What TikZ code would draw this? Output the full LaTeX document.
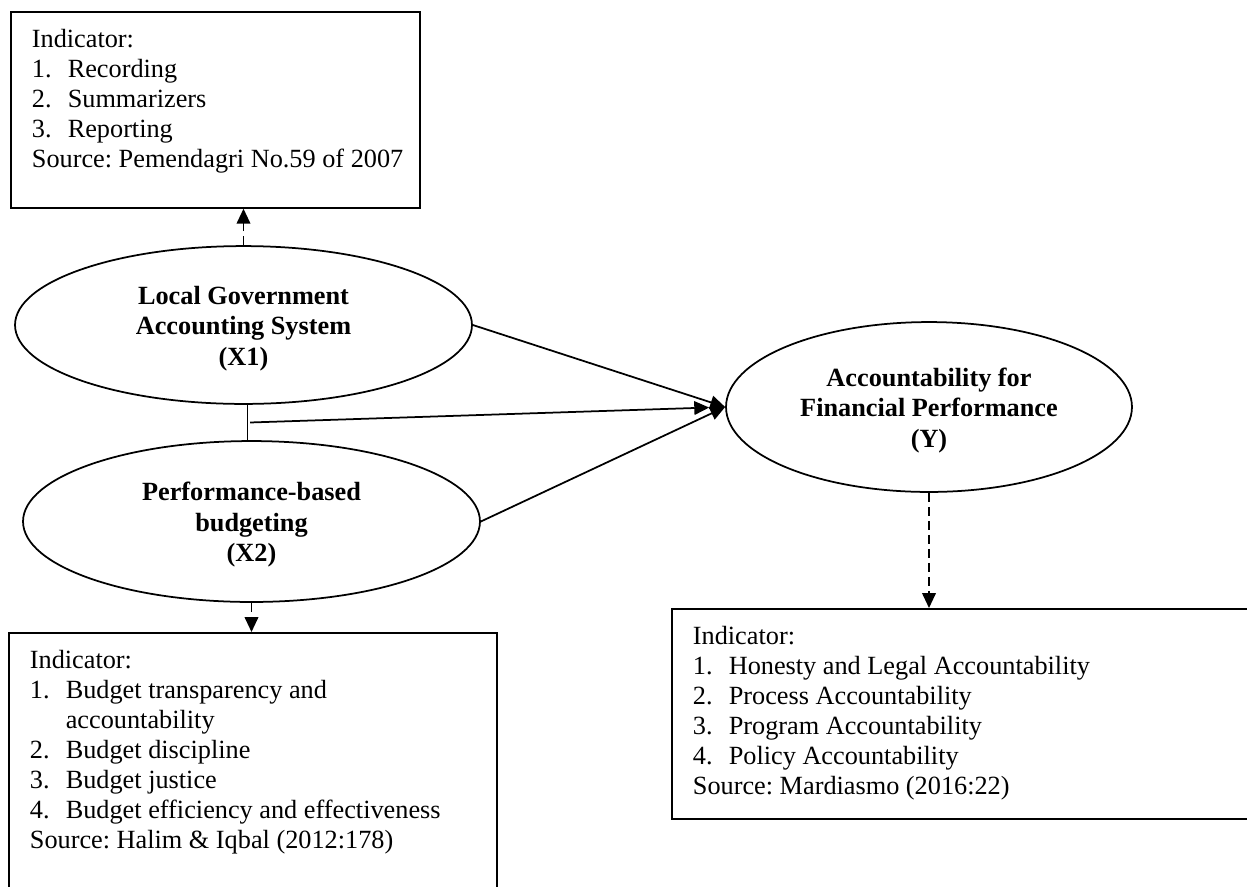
\documentclass[tikz,border=0pt]{standalone}
\usepackage{fontspec}
\setmainfont{Liberation Serif}
\frenchspacing
\usetikzlibrary{arrows.meta,calc,shapes.geometric}

\tikzset{
  construct/.style={ellipse,draw,line width=0.8pt,inner sep=0pt,align=center,
    font=\fontsize{12}{13.9}\selectfont\bfseries},
  indbox/.style={rectangle,draw,line width=0.8pt,inner sep=0pt,
    anchor=north west,font=\fontsize{12}{13.7}\selectfont},
  arr/.style={-{Triangle[length=6.8pt,width=6.2pt]},line width=0.8pt},
  dasharr/.style={arr,dash pattern=on 4pt off 2.4pt}
}
% indicator list: fixed frame, lines hung from the top edge
\newcommand{\indlist}[3]{\parbox[c][#2][t]{#1}{\vspace*{6.85pt}%
  \leftskip=9.6pt\parindent=0pt\strut #3}}
\newcommand{\itemno}[1]{\makebox[16.4pt][l]{#1}}
% taller first-line strut sets the label a bit below the ellipse centre
\newcommand{\topstrut}{\rule{0pt}{13.2pt}}

\begin{document}
\begin{tikzpicture}[x=0.01605cm,y=-0.01605cm]
  \useasboundingbox (0,0) rectangle (1247,886);

  % variables
  \node[construct,minimum width=208.7pt,minimum height=72.1pt] (X1) at (243.5,325)
    {\topstrut Local Government\\ Accounting System\\ (X1)\strut};
  \node[construct,minimum width=208.7pt,minimum height=73.5pt] (X2) at (251.5,521.5)
    {\topstrut Performance-based\\ budgeting\\ (X2)\strut};
  \node[construct,minimum width=185.4pt,minimum height=77.6pt] (Y) at (929,407)
    {\topstrut Accountability for\\ Financial Performance\\ (Y)\strut};

  % indicator boxes
  \node[indbox] (ind1) at (10,11) {\indlist{186.7pt}{89.5pt}{Indicator:\\
    \itemno{1.}Recording\\
    \itemno{2.}Summarizers\\
    \itemno{3.}Reporting\\
    Source: Pemendagri No.59 of 2007}};
  \node[indbox] (ind2) at (8,632) {\indlist{222.8pt}{137pt}{Indicator:\\
    \itemno{1.}Budget transparency and\\
    \hspace*{16.4pt}accountability\\
    \itemno{2.}Budget discipline\\
    \itemno{3.}Budget justice\\
    \itemno{4.}Budget efficiency and effectiveness\\
    Source: Halim \& Iqbal (2012:178)}};
  \node[indbox] (indY) at (671,608) {\indlist{269pt}{95.9pt}{Indicator:\\
    \itemno{1.}Honesty and Legal Accountability\\
    \itemno{2.}Process Accountability\\
    \itemno{3.}Program Accountability\\
    \itemno{4.}Policy Accountability\\
    Source: Mardiasmo (2016:22)}};

  % X1 -- X2 link
  \coordinate (link) at ($(X1.south)!0.5!(X2.north)$);
  \draw[line width=0.8pt] (X1.south -| link) -- (X2.north -| link);

  % paths to Y
  \draw[arr] (X1.east) -- (Y.west);
  \draw[arr] (X2.east) -- (Y.west);
  \draw[arr,shorten >=7.3pt] ([xshift=1.2pt]link) -- (Y.west);

  % indicators
  \draw[dasharr] (X1.north) -- (X1.north |- ind1.south);
  \draw[dasharr] (X2.south) -- (X2.south |- ind2.north);
  \draw[dasharr] (Y.south) -- (Y.south |- indY.north);
\end{tikzpicture}
\end{document}
